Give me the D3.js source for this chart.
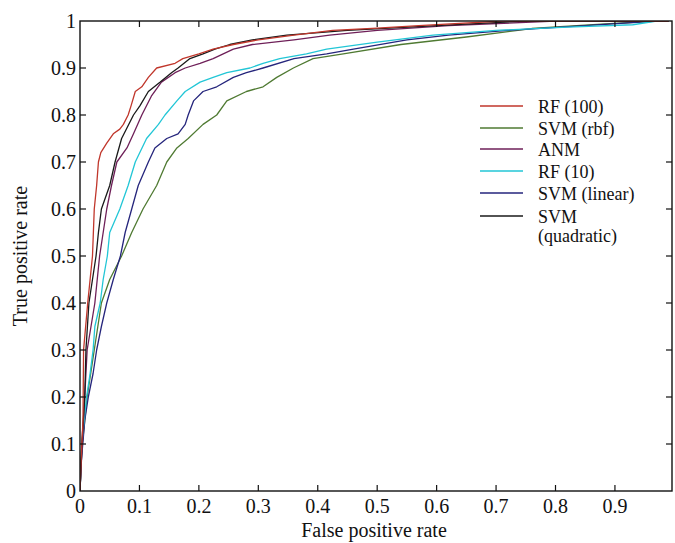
<!DOCTYPE html>
<html><head><meta charset="utf-8">
<script src="https://cdn.jsdelivr.net/npm/d3@7"></script>
<style>body{margin:0;background:#fff}svg{display:block}</style>
</head><body><svg id="c" width="675" height="543"></svg>
<script>
const seriesNames = ["RF (100)", "SVM (rbf)", "ANM", "RF (10)", "SVM (linear)", "SVM (quadratic)"];
const seriesColors = ["#c0362b", "#4f7a32", "#6e1f58", "#22c6d6", "#25257c", "#1a1a1a"];
const xTicks = [0, 0.1, 0.2, 0.3, 0.4, 0.5, 0.6, 0.7, 0.8, 0.9];
const yTicks = [0, 0.1, 0.2, 0.3, 0.4, 0.5, 0.6, 0.7, 0.8, 0.9, 1];

const rf100 = [[0,0],[0.002,0.07],[0.005,0.15],[0.006,0.3],[0.013,0.4],[0.021,0.5],[0.024,0.6],[0.028,0.65],[0.031,0.7],[0.035,0.72],[0.045,0.74],[0.056,0.76],[0.067,0.77],[0.073,0.78],[0.081,0.8],[0.086,0.82],[0.093,0.85],[0.104,0.86],[0.115,0.88],[0.129,0.9],[0.16,0.91],[0.173,0.92],[0.2,0.93],[0.224,0.94],[0.258,0.95],[0.3,0.96],[0.36,0.97],[0.425,0.98],[0.5,0.985],[0.57,0.99],[0.71,1],[0.99,1]];
const svmRbf = [[0,0],[0.002,0.06],[0.004,0.1],[0.012,0.2],[0.024,0.3],[0.03,0.35],[0.036,0.4],[0.05,0.45],[0.07,0.5],[0.087,0.55],[0.106,0.6],[0.129,0.65],[0.146,0.7],[0.163,0.73],[0.182,0.75],[0.207,0.78],[0.23,0.8],[0.247,0.83],[0.28,0.85],[0.308,0.86],[0.331,0.88],[0.359,0.9],[0.392,0.92],[0.443,0.93],[0.54,0.95],[0.65,0.966],[0.76,0.984],[0.87,0.993],[0.97,1],[0.99,1]];
const anm = [[0,0],[0.003,0.08],[0.008,0.2],[0.012,0.3],[0.025,0.4],[0.033,0.5],[0.045,0.6],[0.053,0.65],[0.062,0.7],[0.079,0.73],[0.09,0.76],[0.104,0.8],[0.12,0.84],[0.137,0.87],[0.16,0.89],[0.177,0.9],[0.202,0.91],[0.224,0.92],[0.241,0.93],[0.258,0.94],[0.29,0.95],[0.36,0.96],[0.42,0.97],[0.5,0.98],[0.62,0.99],[0.8,1],[0.99,1]];
const rf10 = [[0,0],[0.002,0.06],[0.003,0.1],[0.011,0.2],[0.017,0.25],[0.022,0.3],[0.025,0.35],[0.034,0.4],[0.039,0.45],[0.046,0.5],[0.05,0.55],[0.067,0.6],[0.081,0.65],[0.093,0.7],[0.112,0.75],[0.132,0.78],[0.143,0.8],[0.163,0.83],[0.177,0.85],[0.202,0.87],[0.224,0.88],[0.247,0.89],[0.286,0.9],[0.308,0.91],[0.336,0.92],[0.381,0.93],[0.415,0.94],[0.5,0.955],[0.594,0.97],[0.7,0.98],[0.82,0.987],[0.93,0.992],[0.97,1],[0.99,1]];
const svmLinear = [[0,0],[0.002,0.06],[0.008,0.15],[0.014,0.2],[0.022,0.25],[0.028,0.3],[0.036,0.35],[0.045,0.4],[0.056,0.45],[0.068,0.5],[0.076,0.55],[0.087,0.6],[0.098,0.65],[0.115,0.7],[0.126,0.73],[0.146,0.75],[0.165,0.76],[0.177,0.78],[0.182,0.8],[0.191,0.83],[0.207,0.85],[0.23,0.86],[0.258,0.88],[0.28,0.89],[0.308,0.9],[0.36,0.92],[0.415,0.93],[0.46,0.94],[0.55,0.96],[0.62,0.97],[0.72,0.98],[0.85,0.99],[0.97,1],[0.99,1]];
const svmQuad = [[0,0],[0.003,0.1],[0.008,0.2],[0.01,0.3],[0.015,0.4],[0.027,0.5],[0.031,0.55],[0.036,0.6],[0.05,0.65],[0.059,0.7],[0.07,0.75],[0.09,0.8],[0.101,0.82],[0.115,0.85],[0.135,0.87],[0.154,0.89],[0.165,0.9],[0.185,0.92],[0.207,0.93],[0.227,0.94],[0.252,0.95],[0.29,0.96],[0.348,0.97],[0.45,0.98],[0.6,0.99],[0.75,1],[0.99,1]];
const seriesData = [rf100, svmRbf, anm, rf10, svmLinear, svmQuad];

const FONT = "'Liberation Serif', Tinos, 'Times New Roman', 'DejaVu Serif', 'Noto Serif', serif";
const svg = d3.select("#c");
const L = 80, R = 672, T = 21, B = 491;
const x = d3.scaleLinear().domain([0, 0.996]).range([L, R]);
const y = d3.scaleLinear().domain([0, 1]).range([B, T]);

svg.append("defs").append("clipPath").attr("id","clip").append("rect")
  .attr("x", L).attr("y", T).attr("width", R-L).attr("height", B-T);

const line = d3.line().x(d => x(d[0])).y(d => y(d[1])).curve(d3.curveLinear);
const g = svg.append("g").attr("clip-path","url(#clip)");
[1,4,3,2,5,0].forEach(i => {
  g.append("path").datum(seriesData[i]).attr("d", line)
    .attr("fill","none").attr("stroke", seriesColors[i]).attr("stroke-width",1.3)
    .attr("stroke-linejoin","round");
});

svg.append("rect").attr("x",L).attr("y",T).attr("width",R-L).attr("height",B-T)
  .attr("fill","none").attr("stroke","#111").attr("stroke-width",1.4);

const tk = svg.append("g").attr("stroke","#111").attr("stroke-width",1.2);
xTicks.filter(v => v > 0).forEach(v => {
  tk.append("line").attr("x1",x(v)).attr("x2",x(v)).attr("y1",B).attr("y2",B-6);
  tk.append("line").attr("x1",x(v)).attr("x2",x(v)).attr("y1",T).attr("y2",T+6);
});
yTicks.filter(v => v > 0 && v < 1).forEach(v => {
  tk.append("line").attr("y1",y(v)).attr("y2",y(v)).attr("x1",L).attr("x2",L+6);
  tk.append("line").attr("y1",y(v)).attr("y2",y(v)).attr("x1",R).attr("x2",R-6);
});

const fmt = v => String(v);
const txt = sel => sel.attr("font-family", FONT).attr("fill", "#111");
svg.append("g").selectAll("text").data(xTicks).join("text")
  .attr("x", d => x(d)).attr("y", 513).attr("text-anchor","middle")
  .attr("font-size", 20).call(txt).text(fmt);
svg.append("g").selectAll("text").data(yTicks).join("text")
  .attr("x", 76).attr("y", d => y(d) + 7).attr("text-anchor","end")
  .attr("font-size", 20).call(txt).text(fmt);

svg.append("text").attr("x", 374).attr("y", 537).attr("text-anchor","middle")
  .attr("font-size", 20).call(txt).text("False positive rate");
svg.append("text").attr("transform","translate(27,256) rotate(-90)")
  .attr("text-anchor","middle").attr("font-size", 20).call(txt).text("True positive rate");

const legY = [106, 128, 149, 171, 193, 216];
const lg = svg.append("g");
seriesNames.forEach((name, i) => {
  lg.append("line").attr("x1", 480).attr("x2", 523).attr("y1", legY[i]).attr("y2", legY[i])
    .attr("stroke", seriesColors[i]).attr("stroke-width", 1.5);
  if (name === "SVM (quadratic)") {
    lg.append("text").attr("x", 538).attr("y", legY[i] + 7).attr("font-size", 18).call(txt).text("SVM");
    lg.append("text").attr("x", 538).attr("y", legY[i] + 26).attr("font-size", 18).call(txt).text("(quadratic)");
  } else {
    lg.append("text").attr("x", 538).attr("y", legY[i] + 7).attr("font-size", 18).call(txt).text(name);
  }
});
</script></body></html>
